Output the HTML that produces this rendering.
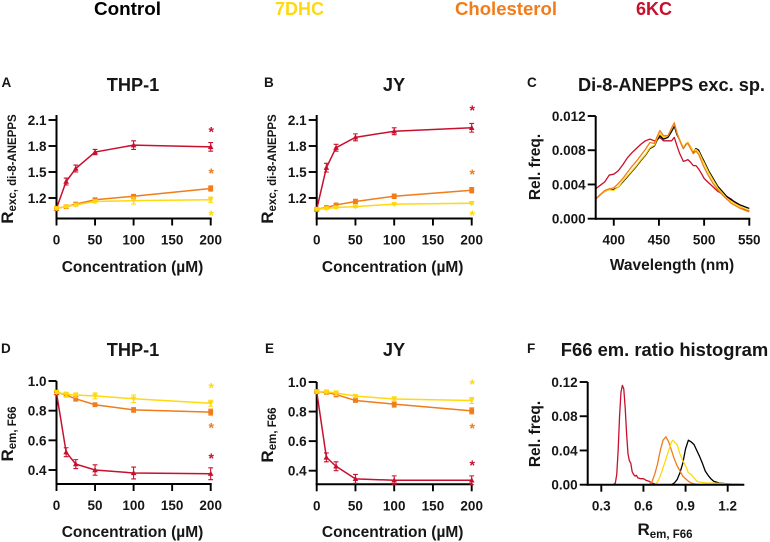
<!DOCTYPE html>
<html lang="en">
<head>
<meta charset="utf-8">
<title>Membrane dipole potential charts</title>
<style>
html,body{margin:0;padding:0;background:#fff;}
svg{display:block;font-family:"Liberation Sans",Arial,sans-serif;font-weight:bold;fill:#111;}
text{fill:#161616;}
</style>
</head>
<body>
<svg id="chart" xmlns="http://www.w3.org/2000/svg" width="770" height="542" viewBox="0 0 770 542">
  <text x="94" y="15" font-size="18" textLength="67" lengthAdjust="spacingAndGlyphs" style="fill:#000">Control</text>
  <text x="275" y="15" font-size="18" textLength="49" lengthAdjust="spacingAndGlyphs" style="fill:#ffd90f">7DHC</text>
  <text x="455" y="15" font-size="18" textLength="102" lengthAdjust="spacingAndGlyphs" style="fill:#f07c1a">Cholesterol</text>
  <text x="636" y="15" font-size="18" textLength="36" lengthAdjust="spacingAndGlyphs" style="fill:#c8102e">6KC</text>
</svg>
<script>
// ---------- shared categories ----------
const concentrations = [0, 12.5, 25, 50, 100, 200];
const concTicks = [0, 50, 100, 150, 200];

// ---------- panel A ----------
const aRed = [1.08, 1.39, 1.54, 1.73, 1.81, 1.79];
const aOrange = [1.08, 1.10, 1.13, 1.18, 1.22, 1.31];
const aYellow = [1.08, 1.10, 1.12, 1.16, 1.17, 1.18];
const aRedErr = [0.02, 0.04, 0.04, 0.03, 0.05, 0.05];
const aOrangeErr = [0.01, 0.01, 0.015, 0.02, 0.02, 0.03];
const aYellowErr = [0.01, 0.01, 0.015, 0.015, 0.04, 0.03];
const aStars = [1.977, 1.5, 1.015];
const excTicks = [1.2, 1.5, 1.8, 2.1];

// ---------- panel B ----------
const bRed = [1.07, 1.55, 1.78, 1.90, 1.97, 2.01];
const bOrange = [1.07, 1.09, 1.12, 1.16, 1.22, 1.29];
const bYellow = [1.07, 1.08, 1.09, 1.10, 1.13, 1.14];
const bRedErr = [0.02, 0.05, 0.04, 0.04, 0.04, 0.05];
const bOrangeErr = [0.01, 0.01, 0.015, 0.025, 0.025, 0.03];
const bYellowErr = [0.01, 0.01, 0.01, 0.01, 0.01, 0.01];
const bStars = [2.227, 1.488, 1.015];

// ---------- panel D ----------
const dRed = [0.92, 0.52, 0.44, 0.40, 0.38, 0.375];
const dOrange = [0.925, 0.905, 0.88, 0.84, 0.805, 0.79];
const dYellow = [0.925, 0.91, 0.905, 0.90, 0.88, 0.85];
const dRedErr = [0.01, 0.03, 0.03, 0.035, 0.04, 0.04];
const dOrangeErr = [0.01, 0.01, 0.015, 0.01, 0.015, 0.02];
const dYellowErr = [0.01, 0.015, 0.015, 0.02, 0.025, 0.02];
const dStars = [0.486, 0.692, 0.962];
const emTicks = [0.4, 0.6, 0.8, 1.0];

// ---------- panel E ----------
const eRed = [0.935, 0.49, 0.43, 0.345, 0.335, 0.335];
const eOrange = [0.935, 0.93, 0.915, 0.875, 0.85, 0.805];
const eYellow = [0.935, 0.935, 0.925, 0.905, 0.885, 0.875];
const eRedErr = [0.01, 0.03, 0.03, 0.03, 0.03, 0.03];
const eOrangeErr = [0.01, 0.01, 0.015, 0.01, 0.02, 0.02];
const eYellowErr = [0.01, 0.01, 0.015, 0.01, 0.015, 0.02];
const eStars = [0.445, 0.695, 0.993];

// ---------- panel C spectra ----------
const wavelengths = [380,385,390,395,400,405,410,415,420,425,430,435,440,445,448,451,455,460,464,467,470,473,477,480,482,485,488,491,494,498,500,505,510,515,520,525,530,535,540,545,550];
const specControl = [.0023,.0028,.0032,.0034,.0034,.0037,.0043,.0049,.0055,.0061,.0068,.0074,.0082,.0085,.0092,.0097,.0093,.0095,.0102,.0108,.0098,.0092,.0082,.0087,.0089,.0084,.0078,.0082,.0080,.0071,.0067,.0056,.0047,.0038,.0032,.0026,.0022,.0019,.0016,.0014,.0012];
const spec7dhc = [.0023,.0028,.0032,.0034,.0033,.0037,.0044,.0050,.0056,.0062,.0069,.0075,.0083,.0086,.0094,.0100,.0095,.0097,.0105,.0111,.0100,.0092,.0083,.0088,.0089,.0084,.0079,.0081,.0078,.0069,.0065,.0054,.0045,.0036,.0030,.0024,.0020,.0017,.0014,.0012,.0010];
const specChol = [.0023,.0028,.0033,.0035,.0036,.0041,.0047,.0054,.0061,.0067,.0074,.0081,.0089,.0088,.0096,.0103,.0097,.0097,.0106,.0112,.0100,.0091,.0082,.0087,.0088,.0082,.0076,.0079,.0075,.0065,.0060,.0050,.0041,.0034,.0028,.0023,.0018,.0015,.0012,.0010,.0008];
const specKc = [.0035,.0039,.0043,.0051,.0052,.0056,.0063,.0071,.0077,.0082,.0087,.0091,.0093,.0091,.0092,.0095,.0091,.0091,.0091,.0095,.0085,.0076,.0067,.0068,.0069,.0066,.0062,.0062,.0058,.0051,.0047,.0042,.0037,.0032,.0029,.0026,.0023,.0018,.0014,.0011,.0009];
const wavelengthTicks = [400, 450, 500, 550];
const specTicks = [0, 0.004, 0.008, 0.012];
const specTickLabels = ['0.000', '0.004', '0.008', '0.012'];

// ---------- panel F histogram ----------
const histKcX = [.38,.39,.40,.41,.42,.43,.44,.45,.46,.47,.48,.49,.50,.51,.52,.53,.54,.55,.56,.58,.60,.62,.64,.66,.68,.70];
const histKcY = [0,.0005,.002,.012,.04,.08,.108,.116,.112,.09,.06,.036,.028,.025,.015,.012,.01,.011,.008,.007,.007,.005,.004,.002,.001,0];
const histCholX = [.64,.66,.68,.70,.72,.74,.76,.78,.80,.82,.84,.86,.88,.90,.92,.94,.96,1.0];
const histCholY = [0,.003,.012,.024,.04,.052,.056,.05,.04,.03,.022,.016,.01,.007,.004,.002,.001,0];
const hist7dhcX = [.68,.70,.72,.74,.76,.78,.80,.81,.82,.84,.86,.88,.90,.92,.94,.96,.98,1.0,1.05,1.1,1.2,1.3];
const hist7dhcY = [0,.003,.01,.02,.03,.04,.05,.052,.05,.047,.036,.028,.022,.014,.012,.008,.004,.003,.002,.002,.001,0];
const histControlX = [.80,.82,.84,.86,.88,.90,.92,.94,.96,.98,1.0,1.02,1.04,1.06,1.08,1.10,1.14,1.2,1.3];
const histControlY = [0,.002,.006,.014,.025,.042,.052,.05,.047,.04,.033,.025,.016,.011,.007,.004,.002,.001,0];
const ratioTicks = [0.3, 0.6, 0.9, 1.2];
const freqTicks = [0, 0.04, 0.08, 0.12];

// ---------- colours ----------
const RED = '#c8102e', ORANGE = '#f07c1a', YELLOW = '#ffd90f', BLACK = '#000';
const svg = document.getElementById('chart');
const NS = 'http://www.w3.org/2000/svg';

function make(tag, attrs) {
  const el = document.createElementNS(NS, tag);
  for (const k in attrs) el.setAttribute(k, attrs[k]);
  svg.appendChild(el);
  return el;
}
function linear(d0, d1, r0, r1) {
  return v => r0 + (v - d0) * (r1 - r0) / (d1 - d0);
}
function addLine(x1, y1, x2, y2, color, w, name) {
  const el = make('line', {x1, y1, x2, y2, stroke: color, 'stroke-width': w});
  
  
  return el;
}
function addText(str, x, y, size, anchor, name) {
  const el = make('text', {x, y, 'font-size': size, 'text-anchor': anchor});
  el.textContent = str;
  
  
  return el;
}
function addSubscriptTitle(main, sub, x, y, rotate, name) {
  const attrs = {x, y, 'font-size': 17, 'text-anchor': 'middle'};
  if (rotate) attrs.transform = 'rotate(-90 ' + x + ' ' + y + ')';
  const el = make('text', attrs);
  
  
  el.appendChild(document.createTextNode(main));
  const t = document.createElementNS(NS, 'tspan');
  t.setAttribute('font-size', '11.5');
  t.setAttribute('dy', '3');
  t.textContent = sub;
  el.appendChild(t);
  return el;
}
function drawAxes(o) {
  addLine(o.axisX, o.axisTop, o.axisX, o.axisY + 1, '#000', 2, o.id + '-y-axis');
  addLine(o.axisX - 1, o.axisY, o.axisRight + 1, o.axisY, '#000', 2, o.id + '-x-axis');
  o.xTicks.forEach((t, i) => {
    const x = o.sx(t);
    addLine(x, o.axisY, x, o.axisY + 7, '#000', 1.9, o.id + '-x-tick-' + i);
    addText(String(o.xLabels ? o.xLabels[i] : t), x, o.axisY + 26, 13.5, 'middle', o.id + '-x-tick-label-' + i);
  });
  o.yTicks.forEach((t, i) => {
    const y = o.sy(t);
    addLine(o.axisX - 8, y, o.axisX, y, '#000', 1.9, o.id + '-y-tick-' + i);
    addText(o.yLabels[i], o.axisX - 10, y + 5, 13.5, 'end', o.id + '-y-tick-label-' + i);
  });
}
function polyPoints(xs, ys, sx, sy) {
  return xs.map((x, i) => sx(x).toFixed(2) + ',' + sy(ys[i]).toFixed(2)).join(' ');
}
function drawSeries(o, name, vals, errs, color, shape) {
  const line = make('polyline', {points: polyPoints(concentrations, vals, o.sx, o.sy), fill: 'none', stroke: color, 'stroke-width': 1.5});
  
  
  vals.forEach((v, i) => {
    const x = o.sx(concentrations[i]), y = o.sy(v);
    const top = o.sy(v + errs[i]), bot = o.sy(v - errs[i]);
    const eb = make('path', {d: 'M' + (x - 2.4) + ' ' + top + 'H' + (x + 2.4) + 'M' + x + ' ' + top + 'V' + bot + 'M' + (x - 2.4) + ' ' + bot + 'H' + (x + 2.4), fill: 'none', stroke: color, 'stroke-width': 1.1});
    
    
    let d;
    if (shape === 'up') d = 'M' + x + ' ' + (y - 3) + 'L' + (x + 2.8) + ' ' + (y + 2.2) + 'L' + (x - 2.8) + ' ' + (y + 2.2) + 'Z';
    else if (shape === 'down') d = 'M' + x + ' ' + (y + 3) + 'L' + (x + 2.8) + ' ' + (y - 2.2) + 'L' + (x - 2.8) + ' ' + (y - 2.2) + 'Z';
    else d = 'M' + (x - 2.4) + ' ' + (y - 2.4) + 'h4.8v4.8h-4.8Z';
    const m = make('path', {d, fill: color});
    
    
  });
}
function drawStar(o, name, value, color) {
  const el = make('text', {x: o.sx(200) + 0.5, y: o.sy(value) + 6, 'font-size': 14, 'text-anchor': 'middle', style: 'fill:' + color});
  el.textContent = '*';
  
  
}
function concPanel(o) {
  o.sx = linear(0, 200, o.axisX, o.axisRight);
  o.xTicks = concTicks;
  drawAxes(o);
  addText(o.letter, o.letterX, o.letterY, 13.5, 'start', o.id + '-panel-letter');
  addText(o.title, o.titleX, o.titleY, 18.2, 'middle', o.id + '-title');
  addText('Concentration (\u00B5M)', o.axisX + 76, o.xTitleY, 15.5, 'middle', o.id + '-x-axis-title');
  addSubscriptTitle('R', o.ySub, o.yTitleX, o.yTitleY, true, o.id + '-y-axis-title');
  drawSeries(o, 'kc', o.red, o.redErr, RED, 'up');
  drawSeries(o, 'cholesterol', o.orange, o.orangeErr, ORANGE, 'square');
  drawSeries(o, '7dhc', o.yellow, o.yellowErr, YELLOW, 'down');
  drawStar(o, 'kc', o.stars[0], RED);
  drawStar(o, 'cholesterol', o.stars[1], ORANGE);
  drawStar(o, '7dhc', o.stars[2], YELLOW);
}

const excLabels = excTicks.map(v => v.toFixed(1));
const emLabels = emTicks.map(v => v.toFixed(1));

concPanel({id: 'panel-a', letter: 'A', letterX: 1.5, letterY: 87, title: 'THP-1', titleX: 133, titleY: 91,
  axisX: 56.5, axisRight: 210.7, axisTop: 115, axisY: 218.5, xTitleY: 272,
  sy: linear(1.2, 2.1, 198, 120), yTicks: excTicks, yLabels: excLabels,
  ySub: 'exc, di-8-ANEPPS', yTitleX: 13, yTitleY: 169,
  red: aRed, orange: aOrange, yellow: aYellow, redErr: aRedErr, orangeErr: aOrangeErr, yellowErr: aYellowErr, stars: aStars});

concPanel({id: 'panel-b', letter: 'B', letterX: 264, letterY: 87, title: 'JY', titleX: 394, titleY: 91,
  axisX: 316.7, axisRight: 471.7, axisTop: 115, axisY: 218.5, xTitleY: 272,
  sy: linear(1.2, 2.1, 198, 120), yTicks: excTicks, yLabels: excLabels,
  ySub: 'exc, di-8-ANEPPS', yTitleX: 273, yTitleY: 169,
  red: bRed, orange: bOrange, yellow: bYellow, redErr: bRedErr, orangeErr: bOrangeErr, yellowErr: bYellowErr, stars: bStars});

concPanel({id: 'panel-d', letter: 'D', letterX: 1, letterY: 353, title: 'THP-1', titleX: 133, titleY: 356,
  axisX: 56.5, axisRight: 210.7, axisTop: 381, axisY: 484, xTitleY: 537,
  sy: linear(0.4, 1.0, 470, 381), yTicks: emTicks, yLabels: emLabels,
  ySub: 'em, F66', yTitleX: 13, yTitleY: 434,
  red: dRed, orange: dOrange, yellow: dYellow, redErr: dRedErr, orangeErr: dOrangeErr, yellowErr: dYellowErr, stars: dStars});

concPanel({id: 'panel-e', letter: 'E', letterX: 265, letterY: 353, title: 'JY', titleX: 394, titleY: 356,
  axisX: 316.7, axisRight: 471.7, axisTop: 382, axisY: 484.3, xTitleY: 537,
  sy: linear(0.4, 1.0, 470.7, 382), yTicks: emTicks, yLabels: emLabels,
  ySub: 'em, F66', yTitleX: 273, yTitleY: 435,
  red: eRed, orange: eOrange, yellow: eYellow, redErr: eRedErr, orangeErr: eOrangeErr, yellowErr: eYellowErr, stars: eStars});

// Panel C
(function () {
  const o = {id: 'panel-c', axisX: 595.7, axisRight: 749.3, axisTop: 116, axisY: 218.7,
    sx: linear(380, 550, 595.7, 749.3), sy: linear(0, 0.012, 218.7, 116),
    xTicks: wavelengthTicks, yTicks: specTicks, yLabels: specTickLabels};
  [[specKc, RED, 'kc'], [specControl, BLACK, 'control'], [spec7dhc, YELLOW, '7dhc'], [specChol, ORANGE, 'cholesterol']].forEach(s => {
    const p = make('polyline', {points: polyPoints(wavelengths, s[0], o.sx, o.sy), fill: 'none', stroke: s[1], 'stroke-width': 1.3, 'stroke-linejoin': 'round'});
    
    
  });
  drawAxes(o);
  addText('C', 527, 87, 13.5, 'start', 'panel-c-panel-letter');
  addText('Di-8-ANEPPS exc. sp.', 671.5, 91, 18.2, 'middle', 'panel-c-title');
  addText('Wavelength (nm)', 672, 270, 15.5, 'middle', 'panel-c-x-axis-title');
  const yt = addText('Rel. freq.', 540, 167, 15.5, 'middle', 'panel-c-y-axis-title');
  yt.setAttribute('transform', 'rotate(-90 540 167)');
})();

// Panel F
(function () {
  const o = {id: 'panel-f', axisX: 587.7, axisRight: 743.3, axisTop: 382, axisY: 484.7,
    sx: linear(0.3, 1.2, 601.3, 727.7), sy: linear(0, 0.12, 484.7, 382),
    xTicks: ratioTicks, xLabels: ratioTicks.map(v => v.toFixed(1)), yTicks: freqTicks, yLabels: freqTicks.map(v => v.toFixed(2))};
  [[histKcX, histKcY, RED, 'kc'], [histControlX, histControlY, BLACK, 'control'], [histCholX, histCholY, ORANGE, 'cholesterol'], [hist7dhcX, hist7dhcY, YELLOW, '7dhc']].forEach(s => {
    const p = make('polyline', {points: polyPoints(s[0], s[1], o.sx, o.sy), fill: 'none', stroke: s[2], 'stroke-width': 1.3, 'stroke-linejoin': 'round'});
    
    
  });
  drawAxes(o);
  addText('F', 527, 353, 13.5, 'start', 'panel-f-panel-letter');
  addText('F66 em. ratio histogram', 664.5, 356, 18.4, 'middle', 'panel-f-title');
  addSubscriptTitle('R', 'em, F66', 665, 535, false, 'panel-f-x-axis-title');
  const yt = addText('Rel. freq.', 540, 434, 15.5, 'middle', 'panel-f-y-axis-title');
  yt.setAttribute('transform', 'rotate(-90 540 434)');
})();
</script>
</body>
</html>
